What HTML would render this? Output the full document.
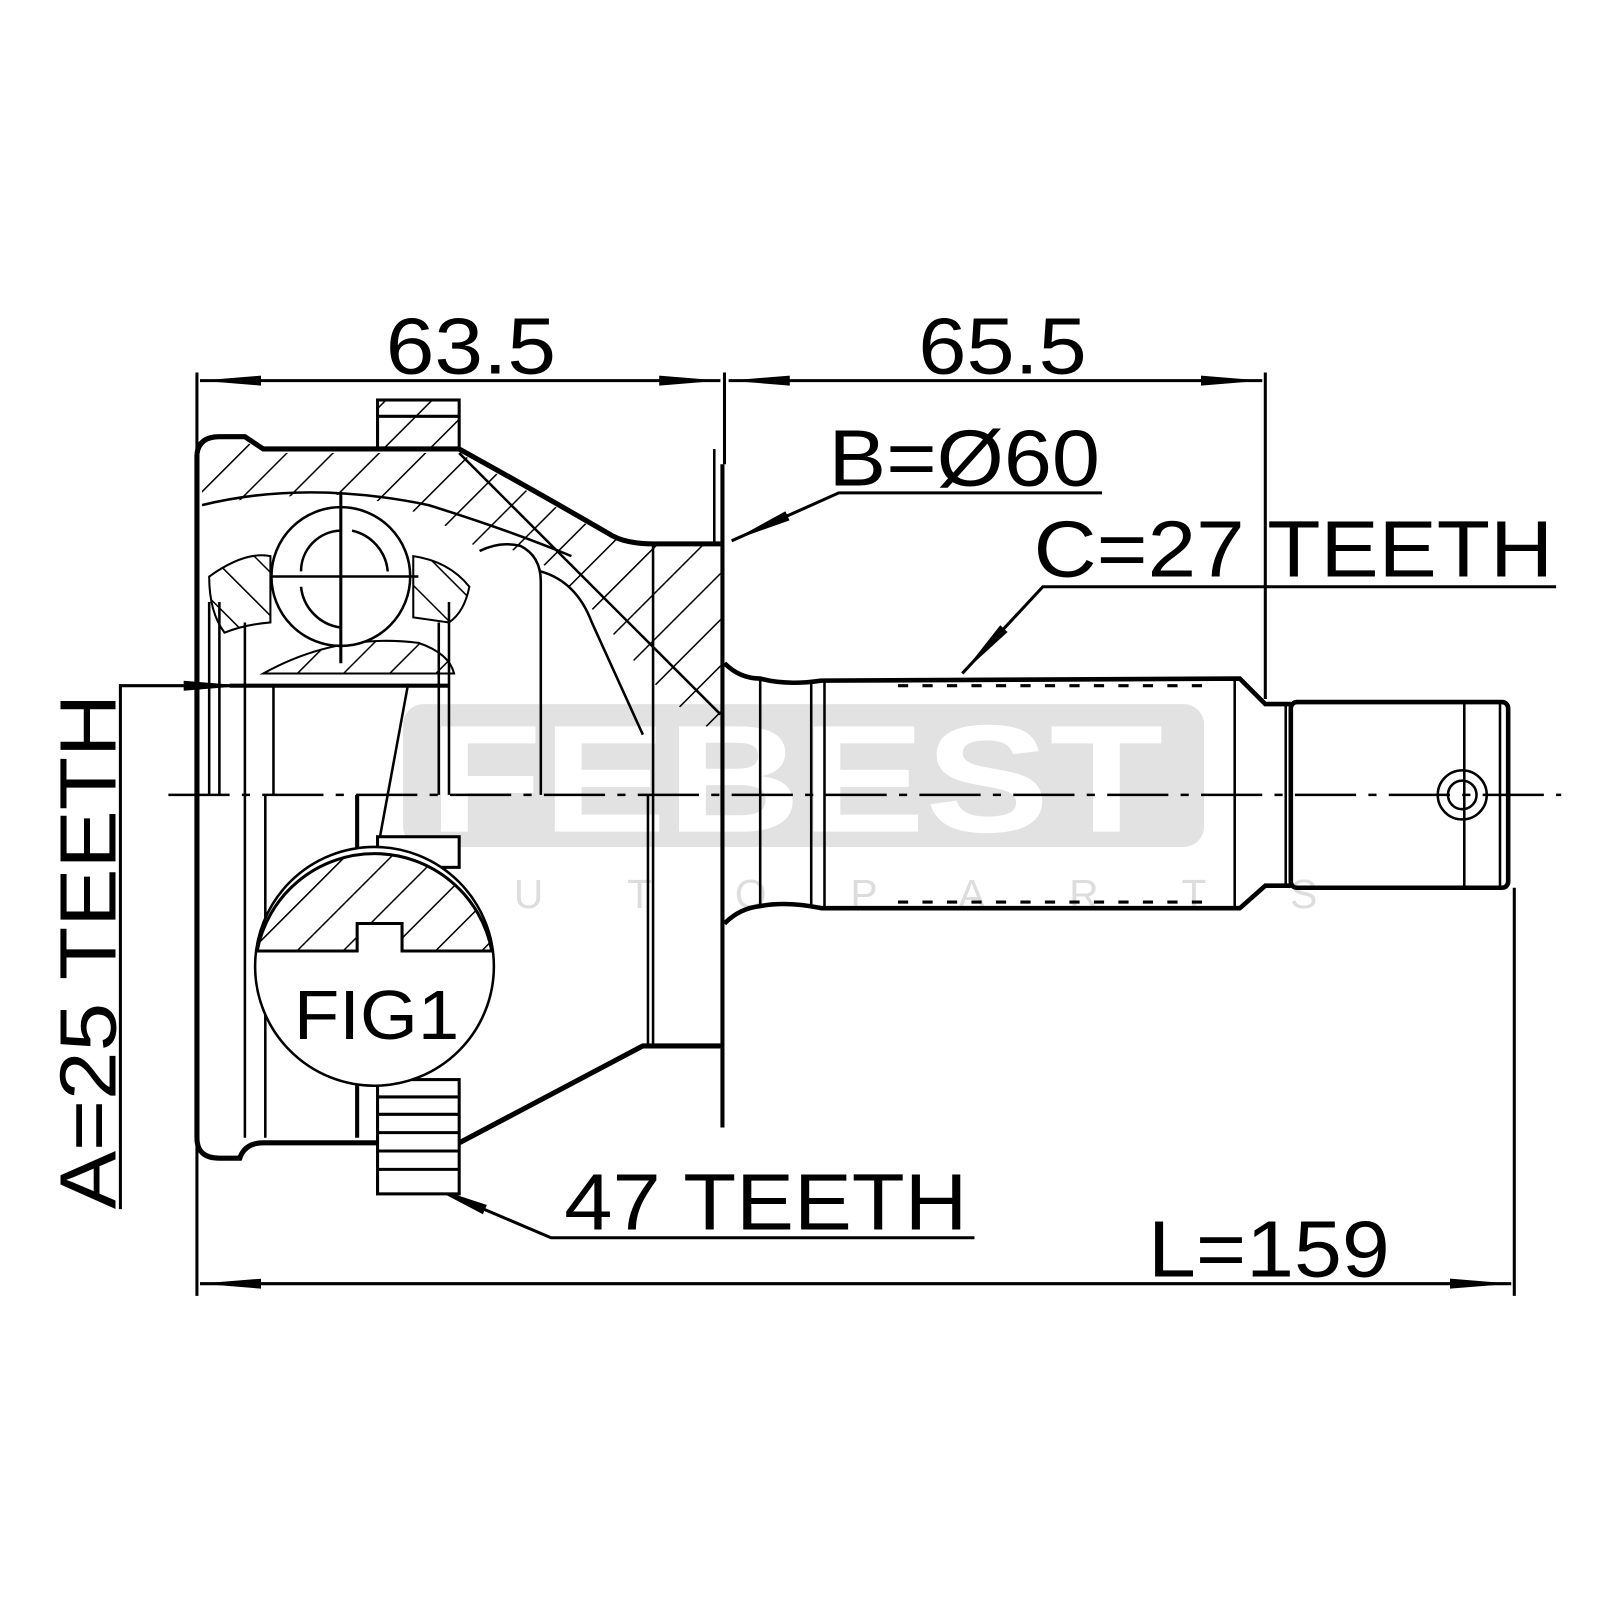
<!DOCTYPE html>
<html><head><meta charset="utf-8"><style>html,body{margin:0;padding:0;background:#fff}svg{display:block}</style></head>
<body>
<svg width="1600" height="1600" viewBox="0 0 1568 1568" xmlns="http://www.w3.org/2000/svg" font-family="Liberation Sans, sans-serif">
<defs>
<marker id="ar" viewBox="0 0 10 10" refX="10" refY="5" markerWidth="60" markerHeight="14" markerUnits="userSpaceOnUse" orient="auto-start-reverse" preserveAspectRatio="none"><path d="M0,1.5 L10,5 L0,8.5z" fill="#000"/></marker>
<pattern id="h" width="32" height="32" patternUnits="userSpaceOnUse" patternTransform="rotate(45)"><line x1="0" y1="0" x2="0" y2="32" stroke="#000" stroke-width="3"/></pattern>
<pattern id="h2" width="30" height="30" patternUnits="userSpaceOnUse" patternTransform="rotate(-45)"><line x1="0" y1="0" x2="0" y2="30" stroke="#000" stroke-width="3"/></pattern>
</defs>
<rect width="1568" height="1568" fill="#fff"/>
<g fill="#e2e2e2">
<rect x="395" y="690" width="785" height="140" rx="20"/>
</g>
<text x="420" y="815" font-size="150" font-weight="bold" fill="#fff" textLength="720" lengthAdjust="spacingAndGlyphs">FEBEST</text>
<text x="395" y="890" font-size="40" fill="#ddd" letter-spacing="82">AUTOPARTS</text>
<g stroke="#000" stroke-width="3" fill="none">
<line x1="193" y1="365" x2="193" y2="1270"/>
<line x1="710" y1="365" x2="710" y2="455"/>
<line x1="1240" y1="365" x2="1240" y2="685"/>
<line x1="1484" y1="870" x2="1484" y2="1270"/>
<line x1="196" y1="373" x2="706" y2="373" marker-start="url(#ar)" marker-end="url(#ar)"/>
<line x1="714" y1="373" x2="1237" y2="373" marker-start="url(#ar)" marker-end="url(#ar)"/>
<line x1="196" y1="1258" x2="1481" y2="1258" marker-start="url(#ar)" marker-end="url(#ar)"/>
<polyline points="1080,483 822,483 717,530" marker-end="url(#ar)"/>
<polyline points="1525,575 1022,575 943,660" marker-end="url(#ar)"/>
<polyline points="955,1213 540,1213 420,1162" marker-end="url(#ar)"/>
<polyline points="118,1185 118,672 240,672" marker-end="url(#ar)"/>
<line x1="365" y1="860" x2="400" y2="670" stroke-width="2.5"/>
</g>
<line x1="165" y1="779" x2="1530" y2="779" stroke="#000" stroke-width="2.5" stroke-dasharray="60,12,8,12"/>
<g stroke="#000" fill="none" stroke-width="5">
<path d="M193,445 Q195,428 215,428 L240,428 L258,440 L450,440 Q540,490 600,525 Q615,533 640,533 L706,533"/>
<path d="M193,445 L193,1115 Q193,1135 215,1135 L235,1135 Q240,1120 258,1120 L450,1120 L630,1025 L706,1025"/>
<line x1="708" y1="455" x2="708" y2="1105" stroke-width="4"/>
</g>
<path d="M198,445 Q200,432 215,432 L240,432 L258,444 L450,444 Q540,494 600,528 L706,536 L706,720 Q650,690 600,620 Q560,570 520,545 Q480,530 470,540 Q430,500 340,485 Q260,485 198,495 Z" fill="url(#h)" stroke="none"/>
<path d="M205,565 Q240,540 265,545 L265,610 Q240,612 220,620 Q205,600 205,565Z" fill="url(#h2)" stroke="#000" stroke-width="2"/>
<path d="M405,545 Q440,550 460,575 Q455,600 440,610 L405,605Z" fill="url(#h2)" stroke="#000" stroke-width="2"/>
<path d="M258,660 Q330,620 410,630 Q440,640 445,660 Z" fill="url(#h)" stroke="#000" stroke-width="2"/>
<g stroke="#000" fill="none" stroke-width="2.5">
<path d="M198,495 Q300,470 420,495 Q500,520 560,545"/>
<circle cx="334" cy="565" r="68" fill="#fff"/>
<path d="M295,560 A40,40 0 0 1 334,520 M345,520 A45,45 0 0 1 380,560 M295,575 A45,45 0 0 0 334,615"/>
<line x1="334" y1="482" x2="334" y2="650" stroke-width="3"/>
<line x1="265" y1="565" x2="410" y2="565"/>
<path d="M470,540 Q490,530 510,535 Q530,545 530,570 L530,779"/>
<path d="M530,560 Q565,570 580,610 L630,720"/>
<path d="M450,444 L706,700"/>
<line x1="205" y1="590" x2="205" y2="779"/>
<line x1="215" y1="590" x2="215" y2="779"/>
<line x1="240" y1="610" x2="240" y2="1115"/>
<line x1="268" y1="672" x2="268" y2="779"/>
<line x1="225" y1="672" x2="440" y2="672" stroke-width="4"/>
<line x1="440" y1="590" x2="440" y2="779"/>
<line x1="430" y1="610" x2="430" y2="779"/>
<line x1="260" y1="779" x2="260" y2="1115"/>
<line x1="350" y1="779" x2="350" y2="1115" stroke-width="4"/>
<line x1="635" y1="779" x2="635" y2="1025"/>
<line x1="640" y1="533" x2="640" y2="779"/>
<line x1="640" y1="1025" x2="640" y2="779"/>
<line x1="640" y1="1025" x2="706" y2="1025"/>
<line x1="700" y1="440" x2="700" y2="533"/>
</g>
<rect x="370" y="392" width="80" height="48" fill="url(#h)" stroke="#000" stroke-width="3"/>
<line x1="370" y1="408" x2="450" y2="408" stroke="#000" stroke-width="3"/>
<g stroke="#000" stroke-width="3" fill="#fff">
<rect x="370" y="1058" width="80" height="112"/>
<path d="M370,1075H450M370,1092H450M370,1110H450M370,1128H450M370,1146H450" fill="none"/>
<rect x="370" y="820" width="80" height="30"/>
</g>
<circle cx="367" cy="947" r="117" fill="#fff" stroke="#000" stroke-width="2.5"/>
<path d="M252,932 A117,117 0 0 1 482,932 L394,932 L394,905 L350,905 L350,932 Z" fill="url(#h)" stroke="#000" stroke-width="3"/>
<text x="288" y="1018" font-size="68" textLength="162" lengthAdjust="spacingAndGlyphs">FIG1</text>
<g stroke="#000" fill="none" stroke-width="4.5">
<path d="M710,650 Q725,665 745,665 Q770,672 805,667 L1215,665 L1240,690 L1265,690"/>
<path d="M710,905 Q725,890 745,888 Q770,883 805,890 L1215,890 L1240,868 L1265,868"/>
<rect x="1265" y="688" width="213" height="182" rx="6"/>
</g>
<g stroke="#000" fill="none" stroke-width="2.5">
<line x1="745" y1="665" x2="745" y2="888"/>
<line x1="795" y1="670" x2="795" y2="888"/>
<line x1="808" y1="667" x2="808" y2="890"/>
<line x1="1210" y1="667" x2="1210" y2="890"/>
<line x1="1260" y1="690" x2="1260" y2="868"/>
<line x1="1435" y1="688" x2="1435" y2="870"/>
<line x1="1470" y1="688" x2="1470" y2="870"/>
<circle cx="1433" cy="779" r="24"/>
<circle cx="1433" cy="779" r="14"/>
</g>
<g stroke="#000" stroke-width="3" stroke-dasharray="10,14">
<line x1="880" y1="672" x2="1180" y2="672"/>
<line x1="880" y1="884" x2="1180" y2="884"/>
</g>
<g font-size="78" fill="#000" lengthAdjust="spacingAndGlyphs">
<text x="378" y="366" textLength="167" lengthAdjust="spacingAndGlyphs">63.5</text>
<text x="900" y="366" textLength="165" lengthAdjust="spacingAndGlyphs">65.5</text>
<text x="812" y="476" textLength="266" lengthAdjust="spacingAndGlyphs">B=Ø60</text>
<text x="1013" y="565" textLength="509" lengthAdjust="spacingAndGlyphs">C=27 TEETH</text>
<text x="553" y="1205" textLength="395" lengthAdjust="spacingAndGlyphs">47 TEETH</text>
<text x="1125" y="1251" textLength="237" lengthAdjust="spacingAndGlyphs">L=159</text>
<text transform="translate(113,1185) rotate(-90)" textLength="505" lengthAdjust="spacingAndGlyphs">A=25 TEETH</text>
</g>
</svg>
</body></html>
